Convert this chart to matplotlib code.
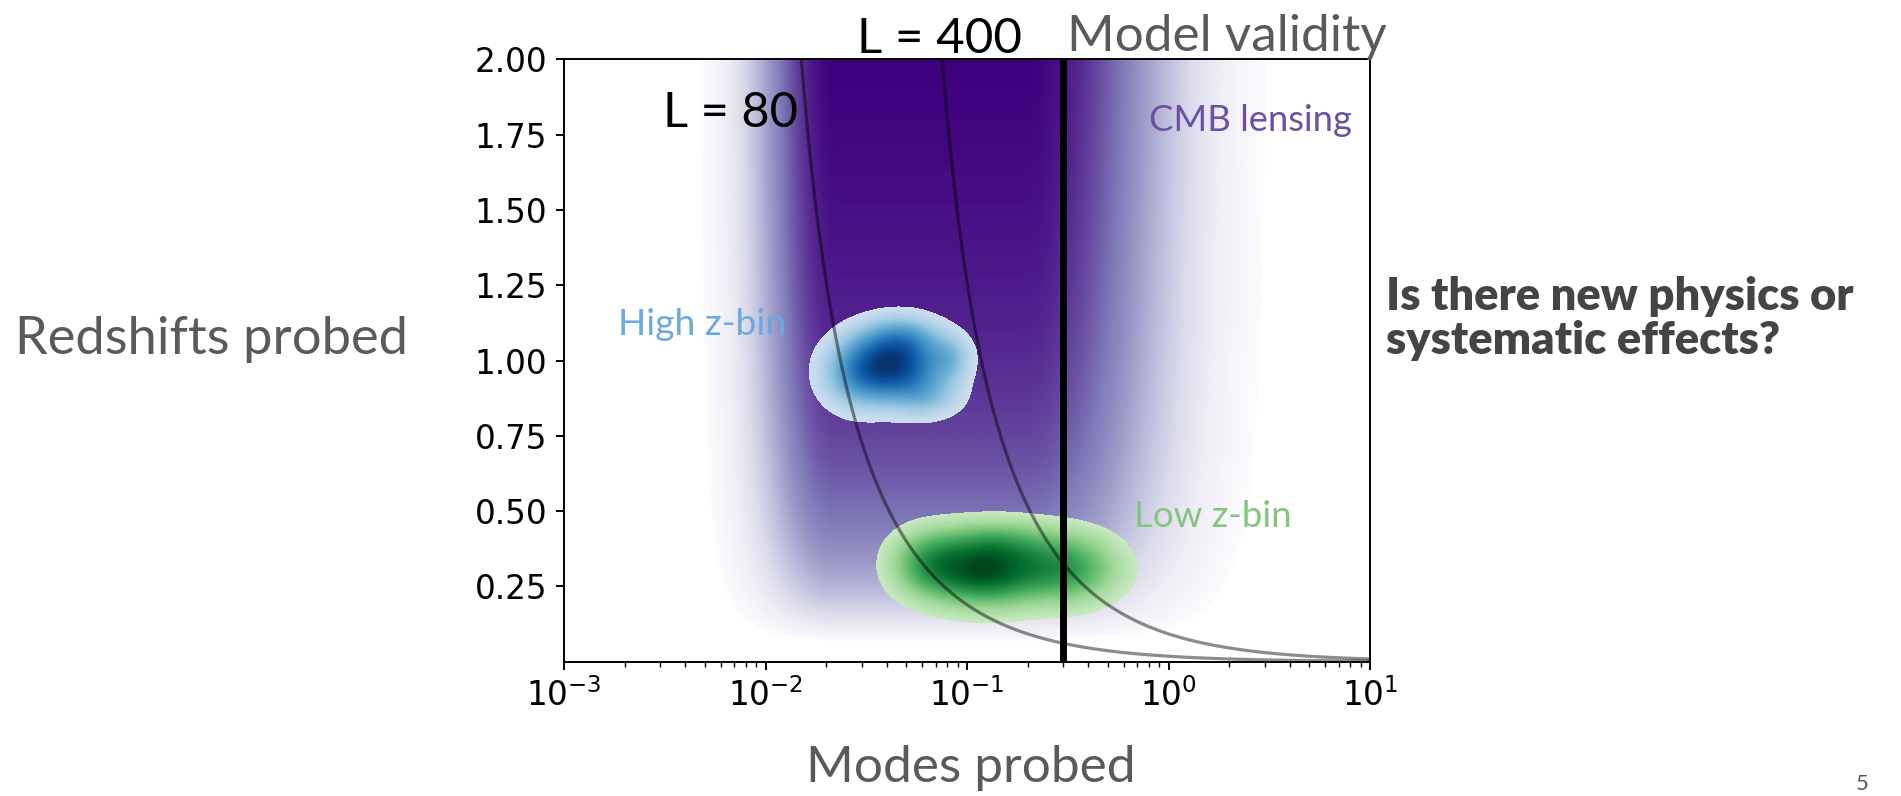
import numpy as np
import matplotlib
matplotlib.use("Agg")
import matplotlib.pyplot as plt
from matplotlib.colors import ListedColormap
from matplotlib.ticker import FixedLocator, FormatStrFormatter

# ---------------- data ----------------
# CMB lensing band: plateau in log10(mode) with Gaussian shoulders, saturating in z
cmb_plateau_left = -1.65
cmb_plateau_right = -0.72
cmb_left_width = 0.30
cmb_right_width = 0.54
cmb_z_onset = 0.05
cmb_z_sat = 0.32
cmb_thresh = 0.08

# High z-bin blob: Gaussian components (log10 mode, z, sigma_logk, sigma_z, weight)
high_logk = [-1.36, -1.55, -1.32, -1.08, -1.20]
high_z = [0.985, 0.95, 1.08, 1.01, 0.88]
high_sk = [0.16, 0.12, 0.13, 0.07, 0.12]
high_sz = [0.075, 0.08, 0.05, 0.05, 0.05]
high_w = [1.0, 0.35, 0.30, 0.25, 0.25]

# Low z-bin blob
low_logk = [-0.92, -0.50, -1.20, -0.85]
low_z = [0.30, 0.31, 0.33, 0.40]
low_sk = [0.20, 0.17, 0.12, 0.20]
low_sz = [0.075, 0.075, 0.07, 0.05]
low_w = [1.0, 0.6, 0.4, 0.3]
blob_thresh = 0.07

# multipoles for k = L / chi(z)
multipoles = [80, 400]
H0 = 67.7
Om = 0.31
model_validity_k = 0.3

yticks = [0.25, 0.50, 0.75, 1.00, 1.25, 1.50, 1.75, 2.00]

# ---------------- figure ----------------
W, H = 1901, 796
fig = plt.figure(figsize=(W / 100, H / 100), dpi=100)
ax = fig.add_axes([564 / W, 1 - 661.7 / H, (1370 - 564) / W, (661.7 - 59.4) / H])

lk = np.linspace(-3, 1, 900)
zz = np.linspace(0, 2, 450)
LK, ZZ = np.meshgrid(lk, zz)

dl = np.clip(cmb_plateau_left - LK, 0, None)
dr = np.clip(LK - cmb_plateau_right, 0, None)
fx = np.exp(-0.5 * (dl / cmb_left_width) ** 2) * np.exp(-0.5 * (dr / cmb_right_width) ** 2)
zc = np.clip(ZZ - cmb_z_onset, 0, None)
gz = zc / (zc + cmb_z_sat)
ztop = 2 - cmb_z_onset
gz = np.clip(gz / (ztop / (ztop + cmb_z_sat)), 0, 1)
cmb = fx * gz
cmb = np.clip((cmb - cmb_thresh) / (1 - cmb_thresh), 0, 1)

pcols = plt.get_cmap("Purples")(np.linspace(0, 1, 256))
pcols[0] = (1, 1, 1, 1)
purples = ListedColormap(pcols)
ax.pcolormesh(10 ** LK, ZZ, cmb, cmap=purples, vmin=0, vmax=1,
              shading="gouraud", zorder=1, rasterized=True)


def blob(lks, zs, sks, szs, ws):
    D = np.zeros_like(LK)
    for a, b, sa, sb, w in zip(lks, zs, sks, szs, ws):
        D += w * np.exp(-0.5 * ((LK - a) / sa) ** 2 - 0.5 * ((ZZ - b) / sb) ** 2)
    return D / D.max()


blues = ListedColormap(plt.get_cmap("Blues")(np.linspace(0.22, 1.0, 256)))
greens = ListedColormap(plt.get_cmap("Greens")(np.linspace(0.25, 1.0, 256)))

Dh = blob(high_logk, high_z, high_sk, high_sz, high_w)
ax.contourf(10 ** LK, ZZ, Dh, levels=np.linspace(blob_thresh, 1.0, 60),
            cmap=blues, zorder=2)
Dl = blob(low_logk, low_z, low_sk, low_sz, low_w)
ax.contourf(10 ** LK, ZZ, Dl, levels=np.linspace(blob_thresh, 1.0, 60),
            cmap=greens, zorder=2)

# comoving distance
zg = np.linspace(0, 2.0, 40001)
inv = 1 / np.sqrt(Om * (1 + zg) ** 3 + (1 - Om))
chi = 299792.458 / H0 * np.concatenate([[0], np.cumsum(0.5 * (inv[1:] + inv[:-1]) * np.diff(zg))])
for L in multipoles:
    ax.plot(L / chi[1:], zg[1:], color="black", alpha=0.45, lw=2.3, zorder=3)

ax.axvline(model_validity_k, color="black", lw=5, zorder=4)

ax.set_xscale("log")
ax.set_xlim(1e-3, 1e1)
ax.set_ylim(0, 2)
ax.yaxis.set_major_locator(FixedLocator(yticks))
ax.yaxis.set_major_formatter(FormatStrFormatter("%.2f"))
ax.tick_params(axis="both", which="major", labelsize=23.5, length=6, width=1.4, pad=6)
ax.tick_params(axis="both", which="minor", length=3.4, width=1.0)
for s in ax.spines.values():
    s.set_linewidth(1.4)
    s.set_zorder(5)

# ---------------- text ----------------
FONT = ["Lato", "DejaVu Sans"]
renderer = fig.canvas.get_renderer()


def place(s, x_px, base_px, width_px, color, weight="normal"):
    t = fig.text(x_px / W, 1 - base_px / H, s, fontsize=20, color=color,
                 family=FONT, weight=weight, ha="left", va="baseline", zorder=10)
    w = t.get_window_extent(renderer).width
    t.set_fontsize(20 * width_px / w)
    return t


GRAY = "#5a5a5a"
place("L = 400", 857, 53, 165, "black")
place("Model validity", 1067, 51, 320, GRAY)
place("L = 80", 663, 127, 135, "black")
place("CMB lensing", 1149, 131, 203, "#6a51a3")
place("High z-bin", 618, 335, 168, "#6aaae0")
place("Low z-bin", 1134, 527, 158, "#84c47c")
place("Redshifts probed", 15, 354, 394, GRAY)
place("Modes probed", 806, 782, 330, GRAY)
t1 = place("Is there new physics or", 1386, 310, 469, "#444444", weight="heavy")
fs = t1.get_fontsize()
fig.text(1386 / W, 1 - 354 / H, "systematic effects?", fontsize=fs, color="#444444",
         family=FONT, weight="heavy", ha="left", va="baseline")
fig.text(1856 / W, 2 / H, "5", fontsize=16, color=GRAY, family=FONT,
         ha="left", va="bottom")

fig.savefig("out.png", dpi=100)
